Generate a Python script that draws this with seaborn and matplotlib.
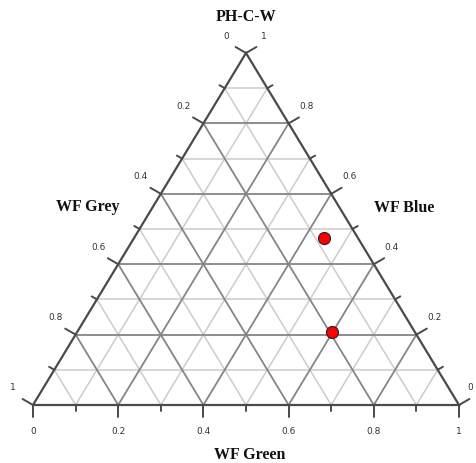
import numpy as np
import pandas as pd
import matplotlib
matplotlib.use("Agg")
import matplotlib.pyplot as plt
import seaborn as sns

# ---- data ----
green = [0.445, 0.598]   # WF Green (bottom axis)
blue = [0.475, 0.208]    # WF Blue (right axis)
grey = [0.080, 0.194]    # WF Grey (left axis)

tick_vals = [0.0, 0.2, 0.4, 0.6, 0.8, 1.0]
tick_labels = ["0", "0.2", "0.4", "0.6", "0.8", "1"]
minor_vals = [0.1, 0.3, 0.5, 0.7, 0.9]

title_top = "PH-C-W"
title_left = "WF Grey"
title_right = "WF Blue"
title_bottom = "WF Green"

# ---- figure ----
sns.set_style("white")
W, H = 476, 463
fig = plt.figure(figsize=(W / 100, H / 100), dpi=100)
ax = fig.add_axes([0, 0, 1, 1])
ax.axis("off")

# pixel geometry of triangle
x0px, basepx, widthpx, heightpx = 33, 405, 426, 352
ax.set_xlim(-x0px / widthpx, (W - x0px) / widthpx)
ax.set_ylim(-(H - basepx) / heightpx, basepx / heightpx)


def px(dx, dy):
    """pixel offset -> data offset (dy positive = downward)"""
    return dx / widthpx, -dy / heightpx


def pix2data(xp, yp):
    return (xp - x0px) / widthpx, (basepx - yp) / heightpx


major_c = "#858585"
minor_c = "#cccccc"
edge_c = "#4a4a4a"

# grid lines
for t in [0.1, 0.2, 0.3, 0.4, 0.5, 0.6, 0.7, 0.8, 0.9]:
    is_major = round(t * 10) % 2 == 0
    c = major_c if is_major else minor_c
    lw = 1.3 if is_major else 1.1
    z = 2 if is_major else 1
    ax.plot([t / 2, 1 - t / 2], [t, t], color=c, lw=lw, zorder=z)
    ax.plot([t, t + (1 - t) / 2], [0, 1 - t], color=c, lw=lw, zorder=z)
    ax.plot([1 - t, (1 - t) / 2], [0, 1 - t], color=c, lw=lw, zorder=z)

# triangle border
ax.plot([0, 1, 0.5, 0], [0, 0, 1, 0], color=edge_c, lw=1.6, zorder=3,
        solid_joinstyle="miter")

ang = np.deg2rad(30)
cs, sn = np.cos(ang), np.sin(ang)
all_t = sorted(tick_vals + minor_vals)
for t in all_t:
    major = any(abs(t - v) < 1e-9 for v in tick_vals)
    L = 12 if major else 6
    dx, dy = px(0, L)
    ax.plot([t, t + dx], [0, dy], color=edge_c, lw=1.4, zorder=3)
    lx, ly = (1 - t) / 2, 1 - t
    dx, dy = px(-L * cs, -L * sn)
    ax.plot([lx, lx + dx], [ly, ly + dy], color=edge_c, lw=1.4, zorder=3)
    rx, ry = 1 - t / 2, t
    dx, dy = px(L * cs, -L * sn)
    ax.plot([rx, rx + dx], [ry, ry + dy], color=edge_c, lw=1.4, zorder=3)

lab_kw = dict(fontsize=6.5, color="#333333", family="DejaVu Sans",
              ha="center", va="center")
xmax_lab = pix2data(470, 0)[0]
for t, lab in zip(tick_vals, tick_labels):
    dx, dy = px(0, 27)
    ax.text(t + dx, dy, lab, **lab_kw)
    lx, ly = (1 - t) / 2, 1 - t
    dx, dy = px(-20, -17)
    ax.text(lx + dx, ly + dy, lab, **lab_kw)
    rx, ry = 1 - t / 2, t
    dx, dy = px(18, -17)
    ax.text(min(rx + dx, xmax_lab), ry + dy, lab, **lab_kw)

# axis titles
tkw = dict(fontsize=11.5, fontweight="bold", family="Liberation Serif",
           ha="center", va="center", color="#111111")
ax.text(*pix2data(246, 17), title_top, **tkw)
ax.text(*pix2data(88, 207), title_left, **tkw)
ax.text(*pix2data(404, 208), title_right, **tkw)
ax.text(*pix2data(250, 455), title_bottom, **tkw)

# data points
df = pd.DataFrame({"green": green, "blue": blue, "grey": grey})
df["x"] = df["green"] + df["blue"] / 2
df["y"] = df["blue"]
sns.scatterplot(data=df, x="x", y="y", ax=ax, s=75, color="#ff0000",
                edgecolor="#222222", linewidth=0.8, zorder=5, legend=False)
ax.set_xlim(-x0px / widthpx, (W - x0px) / widthpx)
ax.set_ylim(-(H - basepx) / heightpx, basepx / heightpx)
ax.axis("off")

fig.savefig("out.png", dpi=100)
